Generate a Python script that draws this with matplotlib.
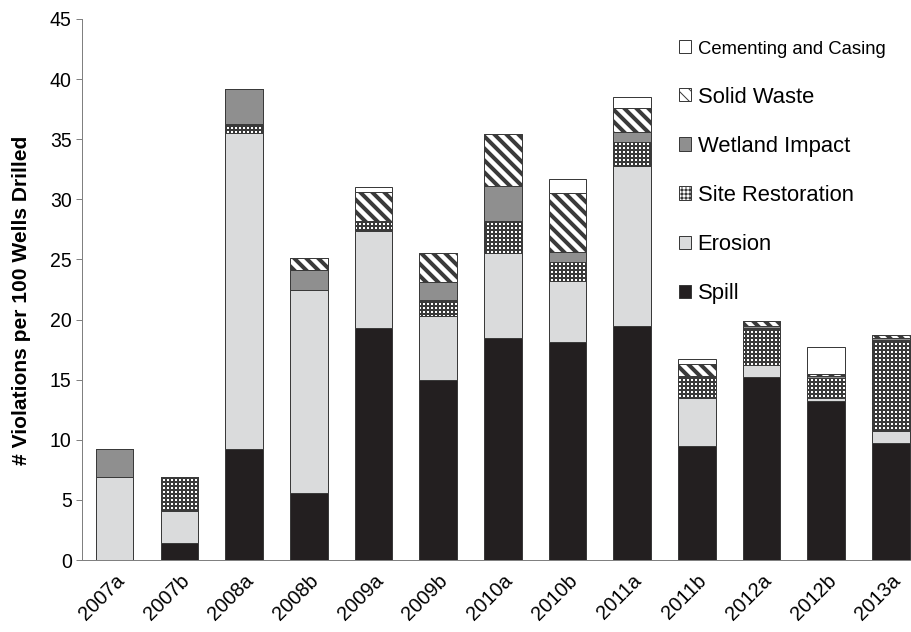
import matplotlib
matplotlib.use("Agg")
import matplotlib.pyplot as plt
from matplotlib.patches import Patch
import numpy as np

plt.rcParams['font.family'] = ['Liberation Sans', 'DejaVu Sans']

periods = ['2007a', '2007b', '2008a', '2008b', '2009a', '2009b', '2010a',
           '2010b', '2011a', '2011b', '2012a', '2012b', '2013a']

spill = [0.0, 1.4, 9.2, 5.55, 19.3, 15.0, 18.5, 18.1, 19.5, 9.5, 15.25, 13.2, 9.75]
erosion = [6.9, 2.7, 26.35, 16.95, 8.1, 5.3, 7.0, 5.1, 13.3, 4.0, 0.95, 0.25, 0.95]
site_restoration = [0.0, 2.8, 0.75, 0.0, 0.8, 1.3, 2.7, 1.6, 2.0, 1.7, 3.1, 1.65, 7.6]
wetland = [2.3, 0.0, 2.9, 1.6, 0.0, 1.5, 2.9, 0.8, 0.8, 0.1, 0.2, 0.2, 0.2]
solid_waste = [0.0, 0.0, 0.0, 1.0, 2.4, 2.4, 4.3, 4.9, 2.0, 1.0, 0.4, 0.2, 0.2]
cementing = [0.0, 0.0, 0.0, 0.0, 0.4, 0.0, 0.0, 1.2, 0.9, 0.4, 0.0, 2.2, 0.0]

# name, values, face colour, hatch, hatch linewidth
series = [
    ('Spill', spill, '#231f20', None, 1.0),
    ('Erosion', erosion, '#dadbdc', None, 1.0),
    ('Site Restoration', site_restoration, 'white', '+++', 2.0),
    ('Wetland Impact', wetland, '#8f8f8f', None, 1.0),
    ('Solid Waste', solid_waste, 'white', '\\\\', 4.0),
    ('Cementing and Casing', cementing, 'white', None, 1.0),
]

W, H, DPI = 911, 632, 72
fig = plt.figure(figsize=(W / DPI, H / DPI), dpi=DPI)
ax = fig.add_axes([81.7 / W, 72 / H, (W - 81.7) / W, 541 / H])

x = np.arange(len(periods))
bottom = np.zeros(len(periods))
handles = []
for name, vals, fc, hatch, hlw in series:
    vals = np.array(vals)
    bars = ax.bar(x, vals, width=0.58, bottom=bottom, color=fc,
                  edgecolor='#3a3a3a', linewidth=1.0, hatch=hatch, zorder=2)
    for p in bars:
        if hasattr(p, 'set_hatch_linewidth'):
            p.set_hatch_linewidth(hlw)
    h = Patch(facecolor=fc, edgecolor='#3a3a3a', linewidth=1.0, hatch=hatch, label=name)
    if hasattr(h, 'set_hatch_linewidth'):
        h.set_hatch_linewidth(min(hlw, 2.5))
    handles.append(h)
    bottom += vals

ax.set_xlim(-0.51, 12.31)
ax.set_ylim(0, 45)
ax.set_yticks(np.arange(0, 46, 5))
ax.set_xticks(x)
ax.set_xticklabels(periods, rotation=45, ha='right', va='top',
                   rotation_mode='anchor', fontsize=20)
ax.tick_params(axis='y', direction='out', length=6, width=1, color='#808080',
               labelsize=19.5, pad=4)
ax.tick_params(axis='x', length=0, pad=11)

for s in ['top', 'right']:
    ax.spines[s].set_visible(False)
for s in ['left', 'bottom']:
    ax.spines[s].set_color('#808080')
    ax.spines[s].set_linewidth(1.0)

ax.set_ylabel('# Violations per 100 Wells Drilled', fontsize=21,
              fontweight='bold')
ax.yaxis.set_label_coords(-0.061, 0.479)

leg = ax.legend(handles=handles[::-1], loc='upper left',
                bbox_to_anchor=(679 / W, 1 - 40 / H), bbox_transform=fig.transFigure,
                frameon=False, fontsize=22, borderpad=0, borderaxespad=0,
                handlelength=0.55, handleheight=0.55, handletextpad=0.3,
                labelspacing=1.28)
leg.get_texts()[0].set_fontsize(18.5)

fig.savefig('out.png', dpi=DPI)
